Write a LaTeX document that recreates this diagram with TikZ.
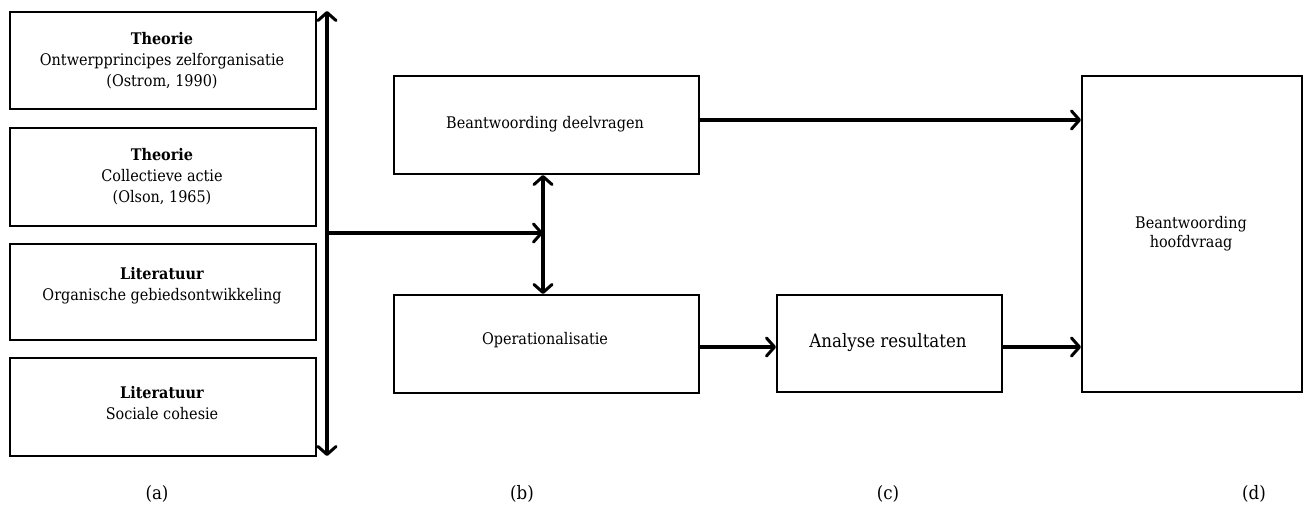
\documentclass[tikz,border=0pt]{standalone}
\usepackage{fontspec}
\setmainfont{DejaVu Serif Condensed}
\usetikzlibrary{arrows.meta}
\begin{document}
\begin{tikzpicture}[x=1pt,y=-1pt,
  box/.style={draw, line width=2pt, inner sep=0pt, align=center},
  conn/.style={line width=3.6pt, -{Straight Barb[length=8pt,width=18pt,line width=3pt,round]}},
  dconn/.style={line width=3.6pt, {Straight Barb[length=8pt,width=18pt,line width=3pt,round]}-{Straight Barb[length=8pt,width=18pt,line width=3pt,round]}},
  small/.style={font=\fontsize{16}{21}\selectfont},
  lab/.style={font=\fontsize{18.5}{20}\selectfont}]
\useasboundingbox (0,0) rectangle (1314,509);
% left column
\node[box, minimum width=306pt, minimum height=97pt, anchor=north west] (t1) at (9,11) {};
\node[small, align=center] at (162,61) {\textbf{Theorie}\\Ontwerpprincipes zelforganisatie\\(Ostrom, 1990)};
\node[box, minimum width=306pt, minimum height=98pt, anchor=north west] (t2) at (9,127) {};
\node[small, align=center] at (162,177) {\textbf{Theorie}\\Collectieve actie\\(Olson, 1965)};
\node[box, minimum width=306pt, minimum height=96pt, anchor=north west] (l1) at (9,243) {};
\node[small, align=center] at (162,286) {\textbf{Literatuur}\\Organische gebiedsontwikkeling};
\node[box, minimum width=306pt, minimum height=98pt, anchor=north west] (l2) at (9,357) {};
\node[small, align=center] at (162,403) {\textbf{Literatuur}\\Sociale cohesie};
% axis arrow
\coordinate (vt) at (327,11);
\coordinate (vb) at (327,456);
\draw[dconn] (vt) -- (vb);
% middle
\node[box, minimum width=305pt, minimum height=98pt, anchor=north west] (bd) at (393,75) {};
\node[small] (bdt) at (545,124) {Beantwoording deelvragen};
\node[box, minimum width=305pt, minimum height=98pt, anchor=north west] (op) at (393,294) {};
\node[small] (opt) at (545,340) {Operationalisatie};
\coordinate (h0) at (327,233);
\coordinate (h1) at (543,233);
\draw[conn] (h0) -- (h1);
\draw[dconn] (bd.south -| 543,0) -- (op.north -| 543,0);
% right
\node[box, minimum width=225pt, minimum height=97pt, anchor=north west] (an) at (776,294) {};
\node[lab] at (888,343) {Analyse resultaten};
\node[box, minimum width=220pt, minimum height=316pt, anchor=north west] (hv) at (1081,75) {};
\node[small, align=center, font=\fontsize{16}{19}\selectfont] at (1191,234) {Beantwoording\\hoofdvraag};
\draw[conn] (bd.east |- 0,120) -- (hv.west |- 0,120);
\draw[conn] (op.east |- 0,347) -- (an.west |- 0,347);
\draw[conn] (an.east |- 0,347) -- (hv.west |- 0,347);
% labels
\node[lab] at (157,494) {(a)};
\node[lab] at (522,494) {(b)};
\node[lab] at (888,494) {(c)};
\node[lab] at (1254,494) {(d)};
\end{tikzpicture}
\end{document}
